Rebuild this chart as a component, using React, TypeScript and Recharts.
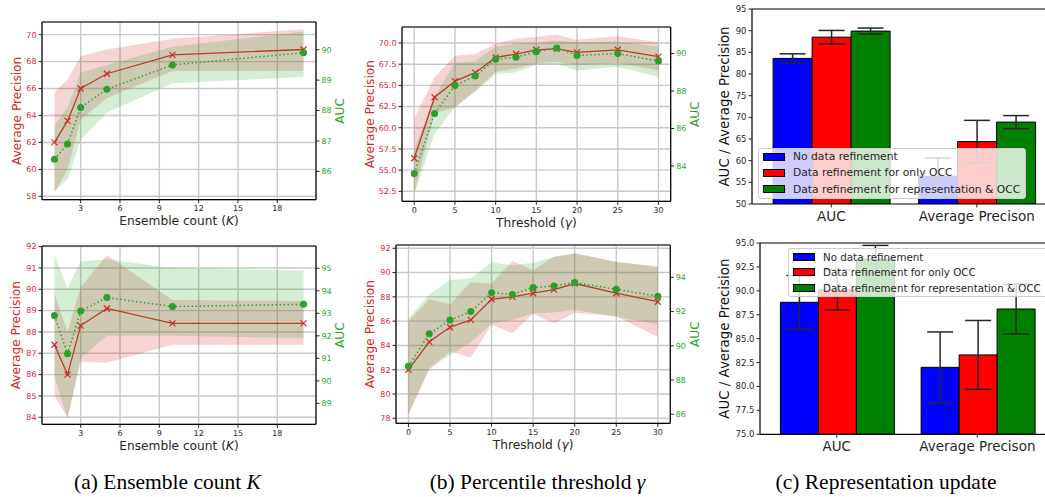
import React from "react";
import {
  ComposedChart,
  BarChart,
  Bar,
  ErrorBar,
  Line,
  Area,
  XAxis,
  YAxis,
  CartesianGrid,
  ReferenceLine,
  Label,
  Legend,
} from "recharts";

const RED = "#d62728";
const GREEN = "#2ca02c";
const INK = "#262626";

// (a) ensemble count K
const ensembleK = [1, 2, 3, 5, 10, 20];
const kTicks = [3, 6, 9, 12, 15, 18];

const apTopK = [62.0, 63.6, 66.0, 67.1, 68.5, 68.9];
const apTopKLo = [58.3, 60.0, 63.7, 65.3, 67.3, 67.3];
const apTopKHi = [65.7, 66.7, 68.4, 68.9, 69.7, 70.4];
const aucTopK = [86.4, 86.9, 88.1, 88.7, 89.5, 89.9];
const aucTopKLo = [85.35, 85.74, 87.05, 87.93, 88.9, 89.1];
const aucTopKHi = [87.5, 88.1, 89.25, 89.5, 90.1, 90.6];

const apBotK = [87.4, 86.0, 88.3, 89.1, 88.4, 88.4];
const apBotKLo = [85.0, 84.0, 86.6, 86.55, 87.4, 87.4];
const apBotKHi = [89.8, 88.0, 90.1, 91.6, 89.5, 89.45];
const aucBotK = [92.9, 91.2, 93.1, 93.7, 93.3, 93.4];
const aucBotKLo = [90.2, 88.3, 91.0, 92.0, 92.0, 91.9];
const aucBotKHi = [95.6, 94.1, 95.3, 95.4, 95.0, 94.9];

// (b) percentile threshold gamma
const threshold = [0, 2.5, 5, 7.5, 10, 12.5, 15, 17.5, 20, 25, 30];
const gTicks = [0, 5, 10, 15, 20, 25, 30];

const apTopG = [56.4, 63.6, 65.5, 66.5, 68.3, 68.7, 69.2, 69.3, 68.9, 69.2, 68.4];
const apTopGLo = [52.3, 61.7, 62.4, 64.4, 66.6, 67.0, 67.6, 67.8, 67.4, 67.6, 66.8];
const apTopGHi = [61.1, 66.0, 68.5, 68.7, 69.9, 70.5, 70.7, 71.0, 70.4, 70.8, 70.1];
const aucTopG = [83.6, 86.8, 88.3, 88.8, 89.7, 89.8, 90.1, 90.3, 89.9, 90.0, 89.6];
const aucTopGLo = [82.5, 85.7, 87.15, 87.95, 88.9, 89.0, 89.4, 89.45, 89.1, 89.3, 88.75];
const aucTopGHi = [84.84, 87.7, 89.5, 89.6, 90.36, 90.54, 90.57, 90.7, 90.6, 90.65, 90.36];

const apBotG = [82.0, 84.3, 85.5, 86.1, 87.8, 88.0, 88.3, 88.6, 89.1, 88.3, 87.6];
const apBotGLo = [78.3, 82.0, 83.5, 83.0, 85.7, 85.0, 86.6, 85.8, 86.7, 86.4, 84.7];
const apBotGHi = [86.0, 87.8, 87.4, 89.2, 89.1, 90.95, 90.2, 91.3, 91.6, 90.9, 90.5];
const aucBotG = [88.8, 90.7, 91.5, 92.0, 93.1, 93.0, 93.4, 93.5, 93.7, 93.3, 92.9];
const aucBotGLo = [86.06, 88.7, 89.46, 90.2, 91.3, 91.5, 91.9, 91.95, 92.1, 91.7, 91.25];
const aucBotGHi = [91.6, 93.0, 93.85, 93.95, 94.9, 94.7, 94.85, 95.2, 95.4, 94.9, 94.6];

// (c) representation update
const barGroups = ["AUC", "Average Precison"];
const refineNames = [
  "No data refinement",
  "Data refinement for only OCC",
  "Data refinement for representation & OCC",
];
const refineColors = ["#0000ff", "#ff0000", "#008000"];

const topNone = [83.6, 56.4];
const topOcc = [88.5, 64.4];
const topBoth = [89.9, 68.9];
const topNoneErr = [1.05, 4.2];
const topOccErr = [1.55, 4.9];
const topBothErr = [0.7, 1.5];

const botNone = [88.8, 82.0];
const botOcc = [90.1, 83.3];
const botBoth = [93.3, 88.1];
const botNoneErr = [2.8, 3.7];
const botOccErr = [2.1, 3.6];
const botBothErr = [1.45, 2.6];

const spine = { stroke: "#000", strokeWidth: 1.2 };
const tickStroke = { stroke: "#222", strokeWidth: 1 };

const vLabel = (text: string, color: string, side: "left" | "right", gap: number, size: number) =>
  (p: any) => {
    const vb = p.viewBox || {};
    const x = side === "left" ? vb.x + vb.width - gap : vb.x + gap;
    const y = vb.y + vb.height / 2;
    return (
      <text x={x} y={y} transform={`rotate(-90 ${x} ${y})`} textAnchor="middle" dominantBaseline="central" fill={color} fontSize={size}>
        {text}
      </text>
    );
  };

const hLabel = (node: React.ReactNode, gap: number, size: number) => (p: any) => {
  const vb = p.viewBox || {};
  return (
    <text x={vb.x + vb.width / 2} y={vb.y + gap} textAnchor="middle" dominantBaseline="central" fill={INK} fontSize={size}>
      {node}
    </text>
  );
};

const crossDot = (p: any) => {
  const { cx, cy, index } = p;
  if (cx == null || cy == null) return <g key={`x-${index}`} />;
  const s = 3;
  return (
    <path
      key={`x-${index}`}
      d={`M${cx - s},${cy - s}L${cx + s},${cy + s}M${cx - s},${cy + s}L${cx + s},${cy - s}`}
      stroke={RED}
      strokeWidth={1.2}
      fill="none"
    />
  );
};

function LinePanel(props: any) {
  const { left, top, pw, ph, x, ap, apLo, apHi, auc, aucLo, aucHi, xDomain, xTicks, apDomain, apTicks, apFmt, aucDomain, aucTicks, xLabel, gaps } = props;
  const data = x.map((v: number, i: number) => ({
    x: v,
    ap: ap[i],
    apBand: [apLo[i], apHi[i]],
    auc: auc[i],
    aucBand: [aucLo[i], aucHi[i]],
  }));
  return (
    <div style={{ position: "absolute", left: left - 40, top: top - 10 }}>
      <ComposedChart width={pw + 76} height={ph + 40} data={data} margin={{ top: 10, right: 0, bottom: 0, left: 0 }}>
        <CartesianGrid yAxisId="ap" stroke="#c8c8c8" strokeWidth={1.4} />
        <XAxis
          type="number"
          dataKey="x"
          domain={xDomain}
          ticks={xTicks}
          allowDataOverflow
          interval={0}
          height={30}
          tickSize={3.5}
          tickMargin={2.5}
          tick={{ fill: INK, fontSize: 8 }}
          axisLine={spine}
          tickLine={tickStroke}
        >
          <Label content={hLabel(xLabel, gaps[2], 12.2)} />
        </XAxis>
        <YAxis
          yAxisId="ap"
          orientation="left"
          width={40}
          domain={apDomain}
          ticks={apTicks}
          allowDataOverflow
          interval={0}
          tickFormatter={apFmt}
          tickSize={3.5}
          tickMargin={2}
          tick={{ fill: RED, fontSize: 8 }}
          axisLine={spine}
          tickLine={tickStroke}
        >
          <Label content={vLabel("Average Precision", RED, "left", gaps[0], 12.2)} />
        </YAxis>
        <YAxis
          yAxisId="auc"
          orientation="right"
          width={36}
          domain={aucDomain}
          ticks={aucTicks}
          allowDataOverflow
          interval={0}
          tickSize={3.5}
          tickMargin={2}
          tick={{ fill: GREEN, fontSize: 8 }}
          axisLine={spine}
          tickLine={tickStroke}
        >
          <Label content={vLabel("AUC", GREEN, "right", gaps[1], 12.2)} />
        </YAxis>
        <Area yAxisId="ap" dataKey="apBand" type="linear" fill={RED} fillOpacity={0.2} stroke="none" isAnimationActive={false} activeDot={false} zIndex={100} />
        <Line yAxisId="ap" dataKey="ap" type="linear" stroke={RED} strokeWidth={1.3} dot={crossDot} activeDot={false} isAnimationActive={false} zIndex={400} />
        <Area yAxisId="auc" dataKey="aucBand" type="linear" fill={GREEN} fillOpacity={0.2} stroke="none" isAnimationActive={false} activeDot={false} zIndex={450} />
        <Line
          yAxisId="auc"
          dataKey="auc"
          type="linear"
          stroke={GREEN}
          strokeWidth={1.5}
          strokeDasharray="1.5 2.5"
          dot={{ r: 3.5, fill: GREEN, stroke: GREEN, strokeWidth: 0, strokeDasharray: "" }}
          activeDot={false}
          isAnimationActive={false}
          zIndex={460}
        />
        <ReferenceLine yAxisId="ap" y={apDomain[1]} stroke="#000" strokeWidth={1.2} />
      </ComposedChart>
    </div>
  );
}

function RefineLegend({ rowH, width, fontSize }: any) {
  return (
    <div
      style={{
        width,
        boxSizing: "border-box",
        background: "rgba(255,255,255,0.8)",
        border: "1px solid #cccccc",
        borderRadius: 3,
        padding: "0 0 1px 4px",
        fontSize,
        color: INK,
        whiteSpace: "nowrap",
        fontFamily: '"DejaVu Sans", sans-serif',
      }}
    >
      {refineNames.map((n, i) => (
        <div key={n} style={{ display: "flex", alignItems: "center", height: rowH }}>
          <span
            style={{
              width: 22,
              height: 8,
              background: refineColors[i],
              border: "1px solid #000",
              boxSizing: "border-box",
              marginRight: 8,
              flex: "none",
            }}
          />
          {n}
        </div>
      ))}
    </div>
  );
}

function BarPanel(props: any) {
  const { left, top, pw, ph, s, none, occ, both, noneErr, occErr, bothErr, domain, ticks, fmt, legendLeft, legendTop, legendWidth, legendFont, rowH, labelGap } = props;
  const data = barGroups.map((g, i) => ({
    group: g,
    none: none[i],
    noneErr: noneErr[i],
    occ: occ[i],
    occErr: occErr[i],
    both: both[i],
    bothErr: bothErr[i],
  }));
  const keys = ["none", "occ", "both"];
  const pad = 0.045 * s;
  return (
    <div style={{ position: "absolute", left: left - 45, top: top - 10 }}>
      <BarChart width={pw + 45} height={ph + 40} data={data} margin={{ top: 10, right: 0, bottom: 0, left: 0 }} barCategoryGap="10%" barGap={0}>
        <XAxis
          dataKey="group"
          type="category"
          padding={{ left: pad, right: pad }}
          height={30}
          interval={0}
          tickSize={3.5}
          tickMargin={3.5}
          tick={{ fill: INK, fontSize: 13.5 }}
          axisLine={spine}
          tickLine={tickStroke}
        />
        <YAxis
          width={45}
          domain={domain}
          ticks={ticks}
          allowDataOverflow
          interval={0}
          tickFormatter={fmt}
          tickSize={3.5}
          tickMargin={2}
          tick={{ fill: INK, fontSize: 8.5 }}
          axisLine={spine}
          tickLine={tickStroke}
        >
          <Label content={vLabel("AUC / Average Precision", "#111", "left", labelGap, 13.4)} />
        </YAxis>
        {keys.map((k, i) => (
          <Bar key={k} dataKey={k} name={refineNames[i]} fill={refineColors[i]} stroke="#000" strokeWidth={1} isAnimationActive={false}>
            <ErrorBar dataKey={`${k}Err`} width={13} stroke={INK} strokeWidth={1.5} direction="y" />
          </Bar>
        ))}
        <ReferenceLine y={domain[1]} stroke="#000" strokeWidth={1.2} />
        <Legend
          layout="vertical"
          align="center"
          verticalAlign="middle"
          wrapperStyle={{ left: legendLeft, top: legendTop, width: "auto", height: "auto" }}
          content={() => <RefineLegend rowH={rowH} width={legendWidth} fontSize={legendFont} />}
        />
      </BarChart>
    </div>
  );
}

const caption: React.CSSProperties = {
  position: "absolute",
  top: 469,
  width: 400,
  textAlign: "center",
  fontFamily: '"Liberation Serif", "Times New Roman", serif',
  fontSize: 21.5,
  lineHeight: "26px",
  color: "#000",
  whiteSpace: "nowrap",
};

export default function App() {
  return (
    <div
      style={{
        position: "absolute",
        left: 0,
        top: 0,
        width: 1045,
        height: 497,
        overflow: "hidden",
        background: "#fff",
        fontFamily: '"DejaVu Sans", sans-serif',
      }}
    >
      <LinePanel
        left={42} top={22.3} pw={274} ph={177.7}
        x={ensembleK} ap={apTopK} apLo={apTopKLo} apHi={apTopKHi} auc={aucTopK} aucLo={aucTopKLo} aucHi={aucTopKHi}
        xDomain={[0.05, 20.95]} xTicks={kTicks}
        apDomain={[57.75, 70.94]} apTicks={[58, 60, 62, 64, 66, 68, 70]}
        aucDomain={[85.07, 90.91]} aucTicks={[86, 87, 88, 89, 90]}
        xLabel={<>Ensemble count (<tspan fontStyle="italic">K</tspan>)</>}
        gaps={[25.3, 24, 21]}
      />
      <LinePanel
        left={402.3} top={26.7} pw={268.7} ph={174.3}
        x={threshold} ap={apTopG} apLo={apTopGLo} apHi={apTopGHi} auc={aucTopG} aucLo={aucTopGLo} aucHi={aucTopGHi}
        xDomain={[-1.5, 31.5]} xTicks={gTicks}
        apDomain={[51.32, 71.89]} apTicks={[52.5, 55, 57.5, 60, 62.5, 65, 67.5, 70]} apFmt={(v: number) => v.toFixed(1)}
        aucDomain={[82.11, 91.42]} aucTicks={[84, 86, 88, 90]}
        xLabel={<>Threshold (<tspan fontStyle="italic">γ</tspan>)</>}
        gaps={[32, 24, 21.7]}
      />
      <LinePanel
        left={42} top={246} pw={274} ph={178.3}
        x={ensembleK} ap={apBotK} apLo={apBotKLo} apHi={apBotKHi} auc={aucBotK} aucLo={aucBotKLo} aucHi={aucBotKHi}
        xDomain={[0.05, 20.95]} xTicks={kTicks}
        apDomain={[83.67, 92.03]} apTicks={[84, 85, 86, 87, 88, 89, 90, 91, 92]}
        aucDomain={[88.07, 95.99]} aucTicks={[89, 90, 91, 92, 93, 94, 95]}
        xLabel={<>Ensemble count (<tspan fontStyle="italic">K</tspan>)</>}
        gaps={[26, 24, 21.7]}
      />
      <LinePanel
        left={395.7} top={245} pw={274.3} ph={178.3}
        x={threshold} ap={apBotG} apLo={apBotGLo} apHi={apBotGHi} auc={aucBotG} aucLo={aucBotGLo} aucHi={aucBotGHi}
        xDomain={[-1.5, 31.5]} xTicks={gTicks}
        apDomain={[77.59, 92.27]} apTicks={[78, 80, 82, 84, 86, 88, 90, 92]}
        aucDomain={[85.47, 95.89]} aucTicks={[86, 88, 90, 92, 94]}
        xLabel={<>Threshold (<tspan fontStyle="italic">γ</tspan>)</>}
        gaps={[25.7, 25, 21.7]}
      />
      <BarPanel
        left={752.3} top={9.3} pw={304.1} ph={195} s={145.5}
        none={topNone} occ={topOcc} both={topBoth} noneErr={topNoneErr} occErr={topOccErr} bothErr={topBothErr}
        domain={[50, 95]} ticks={[50, 55, 60, 65, 70, 75, 80, 85, 90, 95]}
        legendLeft={50.7} legendTop={148.4} legendWidth={268} legendFont={10.75} rowH={16.2} labelGap={27}
      />
      <BarPanel
        left={760} top={242.7} pw={294.1} ph={191.3} s={140.7}
        none={botNone} occ={botOcc} both={botBoth} noneErr={botNoneErr} occErr={botOccErr} bothErr={botBothErr}
        domain={[75, 95]} ticks={[75, 77.5, 80, 82.5, 85, 87.5, 90, 92.5, 95]} fmt={(v: number) => v.toFixed(1)}
        legendLeft={73} legendTop={15.6} legendWidth={290} legendFont={10.3} rowH={15.3} labelGap={35}
      />
      <div style={{ ...caption, left: 167.5 - 200 }}>
        (a) Ensemble count <i>K</i>
      </div>
      <div style={{ ...caption, left: 537.5 - 200 }}>
        (b) Percentile threshold <i>γ</i>
      </div>
      <div style={{ ...caption, left: 886 - 200 }}>
        (c) Representation update
      </div>
    </div>
  );
}
